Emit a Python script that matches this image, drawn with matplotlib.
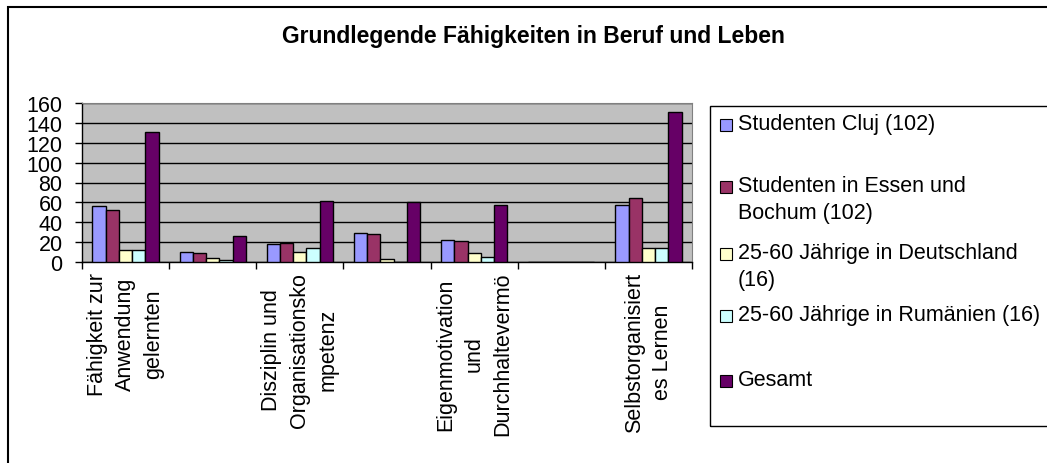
"""Grundlegende Fähigkeiten in Beruf und Leben – grouped bar chart (Excel style)."""

import matplotlib.pyplot as plt
import numpy as np
from matplotlib.patches import Rectangle

plt.rcParams["font.family"] = ["Liberation Sans", "DejaVu Sans"]

categories = [
    "Fähigkeit zur\nAnwendung\ngelernten",
    "",
    "Disziplin und\nOrganisationsko\nmpetenz",
    "",
    "Eigenmotivation\nund\nDurchhaltevermö",
    "",
    "Selbstorganisiert\nes Lernen",
]
series_names = [
    "Studenten Cluj (102)",
    "Studenten in Essen und\nBochum (102)",
    "25-60 Jährige in Deutschland\n(16)",
    "25-60 Jährige in Rumänien (16)",
    "Gesamt",
]
cluj = [56, 10, 18, 29, 22, 0, 57]
essen_bochum = [52, 9, 19, 28, 21, 0, 64]
deutschland = [12, 4, 10, 3, 9, 0, 14]
rumaenien = [12, 2, 14, 0, 5, 0, 14]
gesamt = [131, 26, 61, 60, 57, 0, 151]
colors = ["#9999FF", "#993366", "#FFFFCC", "#CCFFFF", "#660066"]

W, H = 1047, 464
FS = 15.5
fig = plt.figure(figsize=(W / 100, H / 100), dpi=100)

# outer chart border (clipped at right and bottom like the source)
fig.patches.append(Rectangle((8 / W, -0.2), 1.2, 1.2 - 8 / H, transform=fig.transFigure,
                             fill=False, edgecolor="black", linewidth=1.5))

ax = fig.add_axes([82 / W, 1 - 263 / H, (692 - 82) / W, (263 - 104) / H])
ax.set_facecolor("#C0C0C0")

x = np.arange(len(categories))
width = 0.152
all_series = [cluj, essen_bochum, deutschland, rumaenien, gesamt]
for i, (values, color) in enumerate(zip(all_series, colors)):
    ax.bar(x + (i - 2) * width, values, width, color=color, edgecolor="black",
           linewidth=1.0, zorder=3)

ax.set_xlim(-0.5, len(categories) - 0.5)
ax.set_ylim(0, 160)
ax.set_yticks(range(0, 161, 20))
ax.yaxis.grid(True, color="black", linewidth=1.0, zorder=1)
ax.tick_params(axis="y", direction="out", length=5, width=1, pad=9, labelsize=FS)

ax.set_xticks(np.arange(-0.5, len(categories), 1.0))
ax.set_xticklabels([])
ax.tick_params(axis="x", which="major", direction="out", length=5, width=1)
ax.set_xticks(x, minor=True)
ax.set_xticklabels(categories, minor=True, rotation=90, ha="center", va="top",
                   multialignment="center", fontsize=FS, linespacing=1.45)
ax.tick_params(axis="x", which="minor", length=0, pad=7)

for side in ("top", "right"):
    ax.spines[side].set_color("#808080")
for side in ("left", "bottom"):
    ax.spines[side].set_color("black")
    ax.spines[side].set_linewidth(1.0)

fig.text(533 / W, 1 - 37 / H, "Grundlegende Fähigkeiten in Beruf und Leben",
         ha="center", va="center", fontsize=16.5, fontweight="bold")

# legend box, drawn by hand to mimic the Excel spacing
fig.patches.append(Rectangle((710 / W, 1 - 427 / H), 0.6, (427 - 107) / H,
                             transform=fig.transFigure, fill=False,
                             edgecolor="black", linewidth=1.0))
entry_y = [126, 188, 255, 317, 382]
for name, color, ypix in zip(series_names, colors, entry_y):
    fig.patches.append(Rectangle((720 / W, 1 - (ypix + 6) / H), 12 / W, 12 / H,
                                 transform=fig.transFigure, facecolor=color,
                                 edgecolor="black", linewidth=0.8))
    fig.text(738 / W, 1 - (ypix - 12) / H, name, ha="left", va="top",
             fontsize=FS, linespacing=1.35)

fig.savefig("out.png", dpi=100)
